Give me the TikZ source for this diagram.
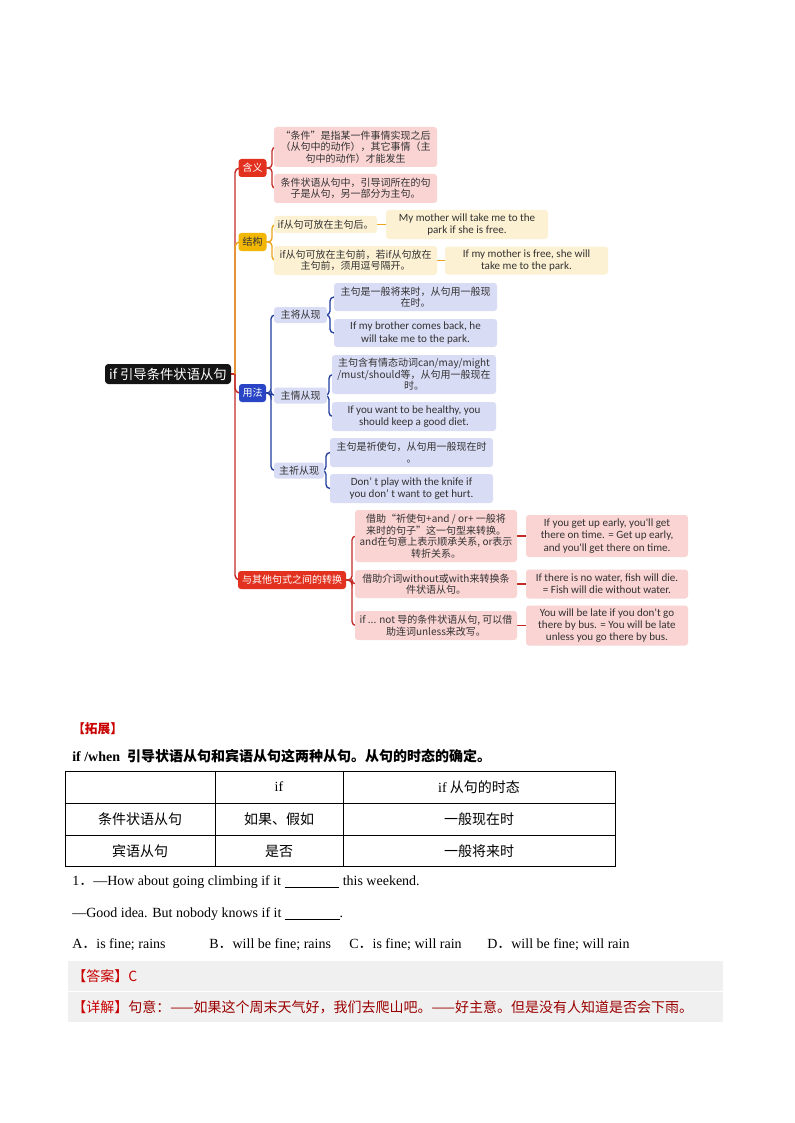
\documentclass[tikz,border=0pt]{standalone}
\usepackage{fontspec}
\setmainfont{Liberation Serif}
\newfontfamily\cjk{Noto Sans CJK SC}
\newfontfamily\en{Carlito}
\pgfdeclarelayer{bg}
\pgfsetlayers{bg,main}
\definecolor{tred}{HTML}{C42B25}
\definecolor{tora}{HTML}{EBA51B}
\definecolor{tblue}{HTML}{1F3C9E}
\definecolor{boxred}{HTML}{E2321F}
\definecolor{boxgold}{HTML}{F2B705}
\definecolor{boxblue}{HTML}{2945C5}
\definecolor{lpink}{HTML}{FAD3D3}
\definecolor{lyel}{HTML}{FDF1D3}
\definecolor{lblue}{HTML}{D9DCF5}
\definecolor{txt}{HTML}{333333}
\definecolor{rootc}{HTML}{141414}
\definecolor{hdred}{HTML}{C80000}
\definecolor{dkred}{HTML}{9A0000}
\definecolor{band}{HTML}{F0F0F0}
\tikzset{
  sz/.style 2 args={minimum width=#1*0.75pt, minimum height=#2*0.75pt},
  box/.style={rounded corners=2.2pt, inner sep=1pt, align=center, text=txt,
              font=\cjk\fontsize{7.5}{8.6}\selectfont},
  enbox/.style={box, font=\en\fontsize{8.3}{9.1}\selectfont},
  pinkb/.style={fill=lpink}, yelb/.style={fill=lyel}, blueb/.style={fill=lblue},
  lab/.style={rounded corners=2.2pt, inner sep=1pt, align=center,
              font=\cjk\fontsize{7.5}{9}\selectfont},
  ln/.style={line width=1.1pt, rounded corners=3.5pt},
  sl/.style={line width=1pt, rounded corners=3pt},
  txtline/.style={anchor=west, inner sep=0pt, font=\fontsize{10.5}{12}\selectfont},
  cell/.style={inner sep=0pt, font=\cjk\fontsize{10.5}{12}\selectfont},
  rule/.style={line width=0.6pt}
}
\begin{document}
\begin{tikzpicture}[x=0.75pt,y=-0.75pt]
\useasboundingbox (0,0) rectangle (794,1123);
\begin{pgfonlayer}{bg}
\fill[white] (0,0) rectangle (794,1123);
\end{pgfonlayer}

% ---------- mind map nodes ----------
\node[rounded corners=2.5pt, fill=rootc, text=white, inner sep=1pt,
      font=\cjk\fontsize{10}{12}\selectfont, sz={126}{20}] (root) at (168,374) {if 引导条件状语从句};

\node[lab, fill=boxred, text=white, sz={28}{18}] (hanyi) at (252.5,168) {含义};
\node[lab, fill=boxgold, text=txt, sz={28}{18}] (jiegou) at (252.5,242) {结构};
\node[lab, fill=boxblue, text=white, sz={27}{18}] (yongfa) at (252.5,393) {用法};
\node[lab, fill=boxred, text=white, sz={108}{18}] (zhuan) at (292,580) {与其他句式之间的转换};

\node[box, pinkb, sz={163}{40}] (h1) at (355.5,147) {“条件”是指某一件事情实现之后\\（从句中的动作），其它事情（主\\句中的动作）才能发生};
\node[box, pinkb, sz={163}{29}] (h2) at (355.5,188.5) {条件状语从句中，引导词所在的句\\子是从句，另一部分为主句。};

\node[box, yelb, sz={103}{17}] (j1) at (325.5,224.5) {if从句可放在主句后。};
\node[enbox, yelb, sz={162}{29}] (j1r) at (467,224.5) {My mother will take me to the\\park if she is free.};
\node[box, yelb, sz={163}{29}] (j2) at (355.5,260.5) {if从句可放在主句前，若if从句放在\\主句前，须用逗号隔开。};
\node[enbox, yelb, sz={163}{28}] (j2r) at (526.5,260.5) {If my mother is free, she will\\take me to the park.};

\node[box, blueb, sz={53}{16}] (y1) at (300.5,315) {主将从现};
\node[box, blueb, sz={163}{28}] (y1a) at (415.5,297) {主句是一般将来时，从句用一般现\\在时。};
\node[enbox, blueb, sz={163}{28}] (y1b) at (415.5,333) {If my brother comes back, he\\will take me to the park.};
\node[box, blueb, sz={53}{16}] (y2) at (300.5,395.5) {主情从现};
\node[box, blueb, sz={164}{39}] (y2a) at (414,374.5) {主句含有情态动词can/may/might\\/must/should等，从句用一般现在\\时。};
\node[enbox, blueb, sz={164}{29}] (y2b) at (414,416.5) {If you want to be healthy, you\\should keep a good diet.};
\node[box, blueb, sz={50}{16}] (y3) at (299,470.5) {主祈从现};
\node[box, blueb, sz={163}{29}] (y3a) at (411.5,452.5) {主句是祈使句，从句用一般现在时\\。};
\node[enbox, blueb, sz={163}{29}] (y3b) at (411.5,488.5) {Don’ t play with the knife if\\you don’ t want to get hurt.};

\node[box, pinkb, sz={162}{52}] (z1) at (436,536) {借助“祈使句+and / or+ 一般将\\来时的句子”这一句型来转换。\\and在句意上表示顺承关系, or表示\\转折关系。};
\node[enbox, pinkb, sz={162}{42}] (z1r) at (607,536) {If you get up early, you'll get\\there on time. = Get up early,\\and you'll get there on time.};
\node[box, pinkb, sz={162}{28}] (z2) at (436,584) {借助介词without或with来转换条\\件状语从句。};
\node[enbox, pinkb, sz={162}{29}] (z2r) at (607,584) {If there is no water, fish will die.\\= Fish will die without water.};
\node[box, pinkb, sz={162}{29}] (z3) at (436,625.5) {if ... not 导的条件状语从句, 可以借\\助连词unless来改写。};
\node[enbox, pinkb, sz={162}{40}] (z3r) at (607,625.5) {You will be late if you don't go\\there by bus. = You will be late\\unless you go there by bus.};

% ---------- connectors ----------
\begin{pgfonlayer}{bg}
\coordinate (hub) at (235,374);
\draw[ln,tred] (root.center) -- (hub);
\draw[ln,tred] (hub) |- (hanyi.center);
\draw[ln,tred] (hub) |- (yongfa.center);
\draw[ln,tred] (hub) |- (zhuan.center);
\draw[ln,tora] (hub) |- (jiegou.center);

\coordinate (bh) at (272,168);
\foreach \c in {h1,h2} \draw[sl,tred] (hanyi.center) -- (bh) |- (\c.center);
\coordinate (bj) at (272,242);
\foreach \c in {j1,j2} \draw[sl,tora] (jiegou.center) -- (bj) |- (\c.center);
\draw[sl,tora] (j1.center) -- (j1r.center);
\draw[sl,tora] (j2.center) -- (j2r.center);

\coordinate (by) at (271,393);
\foreach \c in {y1,y2,y3} \draw[sl,tblue] (yongfa.center) -- (by) |- (\c.center);
\coordinate (by1) at (330,315);
\foreach \c in {y1a,y1b} \draw[sl,tblue] (y1.center) -- (by1) |- (\c.center);
\coordinate (by2) at (329,395.5);
\foreach \c in {y2a,y2b} \draw[sl,tblue] (y2.center) -- (by2) |- (\c.center);
\coordinate (by3) at (326,470.5);
\foreach \c in {y3a,y3b} \draw[sl,tblue] (y3.center) -- (by3) |- (\c.center);

\coordinate (bz) at (352,580);
\foreach \c in {z1,z2,z3} \draw[sl,tred] (zhuan.center) -- (bz) |- (\c.center);
\draw[sl,tred] (z1.center) -- (z1r.center);
\draw[sl,tred] (z2.center) -- (z2r.center);
\draw[sl,tred] (z3.center) -- (z3r.center);
\end{pgfonlayer}

% ---------- lower section ----------
\node[txtline, text=hdred, font=\cjk\bfseries\fontsize{9.5}{11}\selectfont] (tuozhan) at (72,729) {【拓展】};
\node[txtline, font=\bfseries\fontsize{10.5}{12}\selectfont] (intro) at (72,756)
  {if /when\ \ {\cjk\bfseries 引导状语从句和宾语从句这两种从句。从句的时态的确定。}};

\draw[rule] (65,771) rectangle (615,866);
\draw[rule] (65,803) -- (615,803);
\draw[rule] (65,835) -- (615,835);
\draw[rule] (215,771) -- (215,866);
\draw[rule] (343,771) -- (343,866);
\node[cell, font=\fontsize{10.5}{12}\selectfont] (c12) at (279,787) {if};
\node[cell] (c13) at (479,787) {{\rmfamily if} 从句的时态};
\node[cell] (c21) at (140,819) {条件状语从句};
\node[cell] (c22) at (279,819) {如果、假如};
\node[cell] (c23) at (479,819) {一般现在时};
\node[cell] (c31) at (140,851) {宾语从句};
\node[cell] (c32) at (279,851) {是否};
\node[cell] (c33) at (479,851) {一般将来时};

\node[txtline] (q1) at (72,882) {1{\cjk ．}—How about going climbing if it \rule[-1.5pt]{41pt}{0.6pt} this weekend.};
\node[txtline] (q2) at (72,914) {—Good idea. But nobody knows if it \rule[-1.5pt]{41pt}{0.6pt}.};
\node[txtline] (oa) at (72,945) {A{\cjk ．}is fine; rains};
\node[txtline] (ob) at (209,945) {B{\cjk ．}will be fine; rains};
\node[txtline] (oc) at (349,945) {C{\cjk ．}is fine; will rain};
\node[txtline] (od) at (487,945) {D{\cjk ．}will be fine; will rain};

\fill[band] (68,961) rectangle (723,991);
\fill[band] (68,992) rectangle (723,1022);
\node[txtline, font=\cjk\fontsize{10.5}{12}\selectfont, text=hdred] (ans) at (72,976) {【答案】C};
\node[txtline, font=\cjk\fontsize{10.5}{12}\selectfont, text=dkred] (exp) at (72,1007)
  {{\color{hdred}【详解】}句意：——如果这个周末天气好，我们去爬山吧。——好主意。但是没有人知道是否会下雨。};
\end{tikzpicture}
\end{document}
